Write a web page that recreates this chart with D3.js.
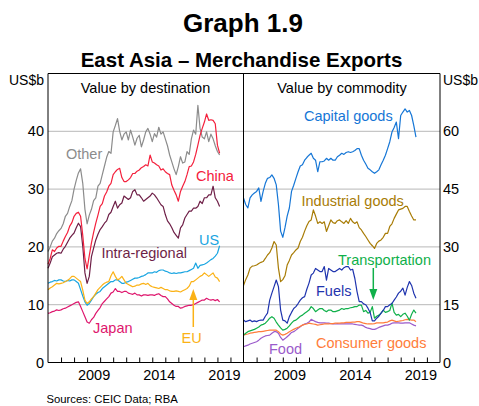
<!DOCTYPE html>
<html>
<head>
<meta charset="utf-8">
<script src="https://cdn.jsdelivr.net/npm/d3@7"></script>
<style>
body { margin: 0; background: #fff; }
text { font-family: Arial, "Liberation Sans", sans-serif; }
</style>
</head>
<body>
<div id="chart"></div>
<script>
// bimonthly values, first point Jan 2006
var startYear = 2006;
var stepsPerYear = 6;

// value by destination (US$b)
var other = [19.2, 20.0, 21.0, 21.5, 22.3, 22.8, 23.2, 24.0, 25.3, 25.8, 27.0, 28.0,
    30.0, 31.5, 32.8, 33.5, 31.0, 26.5, 24.0, 25.5, 26.5, 28.0, 28.5, 30.5,
    31.0, 32.5, 34.0, 35.5, 36.5, 36.2, 39.9, 41.0, 42.2, 40.0, 38.5, 39.5,
    39.9, 38.5, 40.2, 39.0, 37.6, 38.8, 39.3, 37.3, 38.5, 39.9, 40.5, 39.5,
    38.2, 39.6, 39.0, 40.7, 39.5, 39.9, 38.7, 37.5, 35.9, 34.7, 33.5, 32.5,
    33.9, 35.6, 34.5, 34.7, 36.5, 36.0, 38.7, 40.2, 39.5, 44.5, 40.5, 39.0,
    38.7, 39.9, 38.2, 39.5, 38.7, 37.5, 36.5, 35.9];
var china = [17.0, 18.0, 19.5, 19.2, 19.8, 20.1, 20.1, 21.0, 21.8, 22.5, 23.6, 24.2,
    25.3, 25.8, 26.0, 25.3, 22.0, 18.0, 16.2, 18.5, 20.7, 22.5, 24.1, 25.5,
    27.0, 27.5, 28.8, 29.5, 30.5, 31.0, 32.5, 33.0, 33.4, 33.6, 32.0, 31.3,
    31.3, 31.6, 32.0, 32.7, 32.7, 33.1, 33.3, 33.7, 33.9, 34.2, 34.0, 35.9,
    34.7, 34.5, 34.2, 34.0, 33.3, 33.5, 33.0, 32.7, 32.5, 30.7, 29.8, 29.0,
    27.9, 29.6, 30.5, 31.3, 32.5, 33.9, 34.0, 34.7, 36.0, 37.6, 39.3, 40.5,
    41.6, 43.0, 41.9, 42.0, 41.9, 41.3, 37.6, 36.2];
var intra = [16.3, 17.2, 18.3, 18.6, 18.9, 19.0, 18.9, 19.6, 20.1, 20.8, 21.5, 22.0,
    22.4, 23.3, 24.1, 23.5, 20.1, 15.5, 13.7, 14.9, 18.3, 19.8, 21.2, 22.2,
    23.0, 23.5, 24.1, 24.5, 25.6, 26.0, 27.0, 27.9, 26.7, 27.3, 27.6, 28.8,
    28.5, 28.2, 28.5, 29.6, 29.9, 29.0, 29.0, 28.5, 27.9, 28.2, 28.5, 28.8,
    29.3, 29.0, 28.5, 27.9, 27.3, 27.0, 25.6, 24.5, 24.0, 23.3, 22.5, 22.0,
    21.5, 23.3, 23.8, 25.0, 25.6, 26.2, 26.2, 26.7, 26.7, 27.0, 27.9, 27.5,
    28.5, 28.5, 29.0, 29.0, 30.5, 28.5, 27.9, 27.0];
var us = [13.7, 13.9, 14.0, 14.2, 14.1, 14.3, 14.3, 14.1, 14.0, 14.2, 14.1, 14.3,
    14.3, 14.0, 13.7, 12.6, 11.5, 10.5, 9.9, 10.2, 10.8, 11.4, 11.8, 12.1,
    12.3, 12.8, 13.1, 13.4, 13.7, 14.0, 14.0, 14.3, 14.3, 14.0, 13.7, 13.7,
    13.9, 14.0, 14.2, 14.4, 14.6, 14.6, 14.7, 14.9, 15.0, 15.2, 15.5, 15.5,
    15.5, 15.7, 15.6, 15.9, 16.0, 16.0, 15.8, 15.7, 15.5, 15.4, 15.5, 15.4,
    15.5, 15.5, 15.6, 15.7, 15.7, 15.9, 16.1, 16.3, 17.2, 16.3, 16.8, 16.9,
    17.0, 17.2, 17.5, 17.8, 18.0, 18.4, 18.9, 20.2];
var eu = [12.6, 12.9, 13.1, 13.4, 13.7, 13.6, 13.7, 13.8, 14.0, 14.2, 14.5, 14.9,
    14.9, 14.6, 14.3, 14.0, 12.5, 10.8, 10.2, 10.5, 11.0, 11.4, 12.0, 12.6,
    13.0, 13.4, 13.7, 13.9, 14.0, 15.0, 15.7, 14.9, 14.3, 14.5, 14.9, 14.3,
    13.7, 13.5, 13.3, 13.1, 13.2, 13.4, 13.4, 13.6, 13.7, 13.5, 13.7, 13.3,
    13.1, 13.0, 12.9, 12.8, 13.0, 12.8, 12.6, 12.6, 12.4, 12.3, 12.3, 12.4,
    12.3, 12.2, 12.4, 12.6, 12.8, 13.2, 14.0, 14.0, 14.3, 14.6, 14.9, 15.1,
    15.5, 15.2, 14.9, 15.2, 15.5, 14.8, 14.6, 14.0];
var japan = [8.5, 8.6, 8.8, 8.9, 9.1, 9.0, 9.1, 9.3, 9.4, 9.6, 9.8, 10.0,
    10.2, 10.4, 10.5, 9.7, 8.8, 7.9, 7.0, 6.8, 7.4, 7.8, 8.5, 9.0,
    9.5, 10.2, 10.6, 11.0, 11.4, 12.0, 12.2, 12.8, 12.3, 12.3, 12.1, 12.3,
    12.3, 12.0, 11.9, 11.8, 12.0, 11.7, 11.7, 11.5, 11.7, 11.7, 11.6, 11.7,
    11.7, 11.6, 11.8, 11.9, 11.6, 11.4, 11.4, 11.0, 10.5, 10.2, 9.9, 9.7,
    9.7, 9.4, 9.5, 9.7, 9.8, 9.9, 9.9, 10.0, 10.2, 10.4, 10.6, 10.8,
    10.8, 11.1, 10.9, 10.8, 10.9, 10.7, 10.9, 10.5];

// value by commodity (US$b)
var capital = [42.7, 41.0, 40.1, 42.7, 43.5, 44.0, 44.4, 45.3, 41.8, 44.4, 46.5, 47.8,
    48.0, 48.7, 47.8, 46.1, 41.0, 34.1, 32.5, 35.0, 38.0, 40.1, 44.4, 46.0,
    47.8, 49.5, 51.0, 51.3, 52.5, 53.2, 53.8, 54.3, 53.0, 52.5, 49.5, 52.1,
    52.1, 52.3, 53.0, 52.5, 53.0, 52.5, 52.5, 53.4, 53.8, 54.3, 54.0, 54.5,
    54.7, 54.5, 54.7, 55.0, 55.5, 55.5, 53.8, 52.5, 51.5, 50.4, 50.0, 49.5,
    49.1, 49.5, 50.0, 51.3, 52.5, 53.8, 55.5, 57.3, 59.8, 61.0, 62.4, 58.1,
    64.1, 65.0, 65.8, 65.0, 65.4, 64.1, 61.5, 58.5];
var industrial = [20.0, 21.5, 22.7, 24.5, 25.0, 25.1, 25.3, 25.7, 26.0, 26.2, 27.0, 27.9,
    28.5, 29.7, 31.4, 30.5, 24.5, 21.0, 21.5, 22.5, 25.3, 26.5, 27.9, 28.5,
    29.2, 29.7, 31.4, 32.5, 34.1, 35.5, 36.6, 37.0, 39.6, 38.0, 36.1, 36.5,
    36.1, 36.5, 34.0, 35.5, 37.0, 36.3, 36.1, 36.8, 37.0, 36.5, 36.1, 36.8,
    36.1, 37.4, 36.5, 36.1, 36.5, 35.0, 34.4, 33.5, 32.7, 31.8, 30.9, 30.3,
    29.6, 30.9, 31.5, 31.8, 32.5, 33.5, 33.5, 35.3, 36.0, 37.4, 38.5, 39.6,
    39.8, 40.0, 40.5, 40.5, 39.2, 38.0, 37.0, 37.0];
var fuels = [11.0, 10.6, 10.8, 11.0, 10.6, 10.8, 10.6, 10.9, 11.0, 11.0, 12.0, 12.8,
    16.2, 18.0, 19.7, 21.4, 19.7, 13.6, 11.0, 10.8, 10.2, 11.9, 13.0, 14.0,
    14.5, 15.3, 16.2, 16.8, 17.1, 19.0, 20.6, 22.7, 23.2, 24.4, 24.0, 23.6,
    23.6, 24.9, 21.4, 24.4, 24.0, 23.6, 23.6, 24.0, 24.4, 24.0, 24.6, 24.9,
    24.9, 24.0, 24.2, 21.8, 18.4, 15.8, 15.8, 15.2, 15.0, 14.1, 13.0, 10.8,
    10.8, 11.5, 12.0, 12.8, 13.5, 14.5, 14.5, 15.0, 15.3, 16.2, 17.0, 18.0,
    18.5, 19.3, 17.5, 19.5, 21.0, 20.0, 18.0, 16.7];
var transport = [7.1, 7.6, 8.0, 8.2, 8.4, 8.6, 8.9, 9.2, 9.7, 9.9, 10.2, 10.8,
    11.5, 11.9, 11.5, 10.5, 9.7, 9.0, 8.4, 8.6, 8.9, 9.5, 10.2, 10.8,
    11.0, 11.5, 12.0, 12.3, 12.8, 13.2, 13.6, 14.5, 14.0, 13.2, 13.6, 14.0,
    14.0, 13.5, 13.2, 13.6, 13.6, 13.2, 13.2, 13.4, 13.6, 14.0, 13.8, 14.0,
    14.0, 14.2, 14.3, 14.5, 14.5, 14.9, 14.9, 13.2, 13.5, 12.8, 13.0, 14.5,
    11.5, 12.0, 12.3, 12.8, 13.6, 13.0, 13.2, 13.5, 15.4, 13.0, 12.3, 12.5,
    11.9, 12.5, 12.8, 12.0, 11.0, 12.5, 13.6, 12.8];
var consumer = [7.1, 7.3, 7.4, 7.6, 7.7, 7.8, 7.9, 8.0, 8.0, 8.1, 8.2, 8.3,
    8.4, 8.4, 8.4, 8.4, 8.0, 7.4, 7.1, 7.3, 7.6, 8.0, 8.3, 8.6,
    8.9, 9.1, 9.4, 9.7, 9.9, 10.0, 10.2, 10.1, 10.0, 9.9, 9.7, 9.8,
    9.9, 10.0, 10.0, 10.0, 10.1, 10.1, 10.2, 10.2, 10.2, 10.3, 10.3, 10.4,
    10.4, 10.4, 10.5, 10.5, 10.6, 10.6, 10.4, 10.2, 10.1, 10.0, 10.0, 10.0,
    10.1, 10.3, 10.3, 10.3, 10.3, 10.4, 10.5, 10.8, 11.0, 10.8, 10.6, 10.7,
    10.8, 10.9, 11.1, 11.2, 11.1, 11.0, 11.0, 10.6];
var food = [4.1, 4.3, 4.5, 4.8, 5.0, 5.2, 5.4, 5.8, 6.3, 6.6, 6.9, 7.0,
    7.1, 7.6, 8.0, 8.0, 7.6, 6.5, 5.8, 6.2, 6.7, 7.2, 7.8, 8.0,
    8.4, 8.9, 9.3, 9.7, 10.0, 10.2, 10.5, 11.2, 10.9, 10.6, 10.4, 10.3,
    10.3, 10.3, 10.2, 10.2, 10.1, 10.0, 10.0, 10.1, 10.0, 10.0, 10.0, 10.0,
    10.0, 10.0, 10.0, 9.9, 9.8, 9.7, 9.7, 9.5, 9.1, 8.9, 8.8, 8.6,
    8.6, 8.8, 9.1, 9.3, 9.5, 9.7, 9.7, 9.9, 10.2, 10.3, 10.3, 10.3,
    10.2, 10.2, 10.3, 10.3, 10.3, 10.0, 9.7, 9.5];

// tick labels
var xTickYears = [2009, 2014, 2019];
var leftTicks = [0, 10, 20, 30, 40];
var rightTicks = [0, 15, 30, 45, 60];

var width = 479, height = 406;
var top_ = 73.5, bottom = 362.5, left = 48, mid = 243.5, right = 440;

var svg = d3.select("#chart").append("svg")
    .attr("width", width)
    .attr("height", height);

var x1 = d3.scaleLinear().domain([2006, 2021]).range([left, mid]);
var x2 = d3.scaleLinear().domain([2006, 2021]).range([mid, right]);
var yL = d3.scaleLinear().domain([0, 50]).range([bottom, top_]);
var yR = d3.scaleLinear().domain([0, 75]).range([bottom, top_]);

// gridlines (shared by both panels)
svg.selectAll(".grid")
    .data(leftTicks.slice(1))
    .enter().append("line")
    .attr("x1", left).attr("x2", right)
    .attr("y1", function (d) { return yL(d); })
    .attr("y2", function (d) { return yL(d); })
    .attr("stroke", "#b8b8b8")
    .attr("stroke-width", 1);

function yearOf(i) { return startYear + i / stepsPerYear; }

function drawLine(data, x, y, colour) {
    var line = d3.line()
        .x(function (d, i) { return x(yearOf(i)); })
        .y(function (d) { return y(d); });
    svg.append("path")
        .datum(data)
        .attr("d", line)
        .attr("fill", "none")
        .attr("stroke", colour)
        .attr("stroke-width", 1.2)
        .attr("stroke-linejoin", "round");
}

var cOther = "#8c8c8c", cChina = "#f4203c", cIntra = "#6e1f47", cUS = "#19a5e1",
    cEU = "#fbb216", cJapan = "#de166d", cCapital = "#1576d6", cIndustrial = "#a87c06",
    cFuels = "#1f34ae", cTransport = "#10b04a", cConsumer = "#ff7d3a", cFood = "#9b5bcb";

drawLine(other, x1, yL, cOther);
drawLine(japan, x1, yL, cJapan);
drawLine(us, x1, yL, cUS);
drawLine(eu, x1, yL, cEU);
drawLine(intra, x1, yL, cIntra);
drawLine(china, x1, yL, cChina);

drawLine(food, x2, yR, cFood);
drawLine(consumer, x2, yR, cConsumer);
drawLine(transport, x2, yR, cTransport);
drawLine(fuels, x2, yR, cFuels);
drawLine(industrial, x2, yR, cIndustrial);
drawLine(capital, x2, yR, cCapital);

// frame
var frame = [[left, top_, right, top_], [left, top_, left, bottom], [mid, top_, mid, bottom],
    [right, top_, right, bottom], [left, bottom, right, bottom]];
svg.selectAll(".frame")
    .data(frame)
    .enter().append("line")
    .attr("x1", function (d) { return d[0]; })
    .attr("y1", function (d) { return d[1]; })
    .attr("x2", function (d) { return d[2]; })
    .attr("y2", function (d) { return d[3]; })
    .attr("stroke", "#000")
    .attr("stroke-width", 1);

// year ticks (inside) and labels
[x1, x2].forEach(function (x) {
    var ticks = svg.append("g")
        .attr("transform", "translate(0," + bottom + ")")
        .call(d3.axisBottom(x).tickValues(d3.range(2007, 2021)).tickSize(-5).tickSizeOuter(0).tickFormat(""));
    ticks.select(".domain").remove();
    ticks.selectAll("line").attr("stroke", "#000");

    var labels = svg.append("g")
        .attr("transform", "translate(0," + bottom + ")")
        .call(d3.axisBottom(x).tickValues(xTickYears.map(function (d) { return d + 0.5; }))
            .tickSize(0).tickPadding(7).tickFormat(function (d) { return Math.floor(d); }));
    labels.select(".domain").remove();
    labels.selectAll("text").attr("font-size", "14.5px").attr("fill", "#000")
        .attr("font-family", "Arial, 'Liberation Sans', sans-serif");
});

var axL = svg.append("g")
    .attr("transform", "translate(" + left + ",0)")
    .call(d3.axisLeft(yL).tickValues(leftTicks).tickSize(0).tickPadding(4));
axL.select(".domain").remove();
axL.selectAll("text").attr("font-size", "14.5px").attr("fill", "#000")
    .attr("font-family", "Arial, 'Liberation Sans', sans-serif");

var axR = svg.append("g")
    .attr("transform", "translate(" + right + ",0)")
    .call(d3.axisRight(yR).tickValues(rightTicks).tickSize(0).tickPadding(3));
axR.select(".domain").remove();
axR.selectAll("text").attr("font-size", "14.5px").attr("fill", "#000")
    .attr("font-family", "Arial, 'Liberation Sans', sans-serif");

// titles
function label(txt, x, y, size, colour, weight, anchor) {
    svg.append("text")
        .attr("x", x).attr("y", y)
        .attr("font-size", size + "px")
        .attr("font-weight", weight || "normal")
        .attr("text-anchor", anchor || "start")
        .attr("fill", colour)
        .text(txt);
}

label("Graph 1.9", 243, 32, 26, "#000", "bold", "middle");
label("East Asia \u2013 Merchandise Exports", 241.5, 67, 20.5, "#000", "bold", "middle");
label("US$b", 9, 85, 14, "#000");
label("US$b", 443, 85, 14, "#000");
label("Value by destination", 145.5, 93, 14.5, "#000", "normal", "middle");
label("Value by commodity", 342, 93, 14.5, "#000", "normal", "middle");
label("Sources: CEIC Data; RBA", 46.5, 403, 11.3, "#000");

// series labels
label("Other", 66, 159, 14.5, cOther);
label("China", 196, 181, 14.5, cChina);
label("Intra-regional", 101.5, 258, 14.5, cIntra);
label("US", 199, 245, 14.5, cUS);
label("Japan", 93, 333, 14.5, cJapan);
label("EU", 181.5, 343, 14.5, cEU);
label("Capital goods", 304, 121, 14.5, cCapital);
label("Industrial goods", 301.5, 206, 14.5, cIndustrial);
label("Transportation", 338, 265, 14.5, cTransport);
label("Fuels", 316, 296, 14.5, cFuels);
label("Consumer goods", 316, 348, 14.5, cConsumer);
label("Food", 269, 354, 14.5, cFood);

// arrows
function arrow(x, yFrom, yTo, colour) {
    var dir = yTo < yFrom ? 1 : -1;
    svg.append("line")
        .attr("x1", x).attr("x2", x)
        .attr("y1", yFrom).attr("y2", yTo + dir * 8)
        .attr("stroke", colour).attr("stroke-width", 1.5);
    svg.append("path")
        .attr("d", "M" + x + "," + yTo + "L" + (x - 4) + "," + (yTo + dir * 11) +
            "L" + (x + 4) + "," + (yTo + dir * 11) + "Z")
        .attr("fill", colour);
}
arrow(193.3, 327, 289, cEU);
arrow(373.3, 268, 300, cTransport);
</script>
</body>
</html>
